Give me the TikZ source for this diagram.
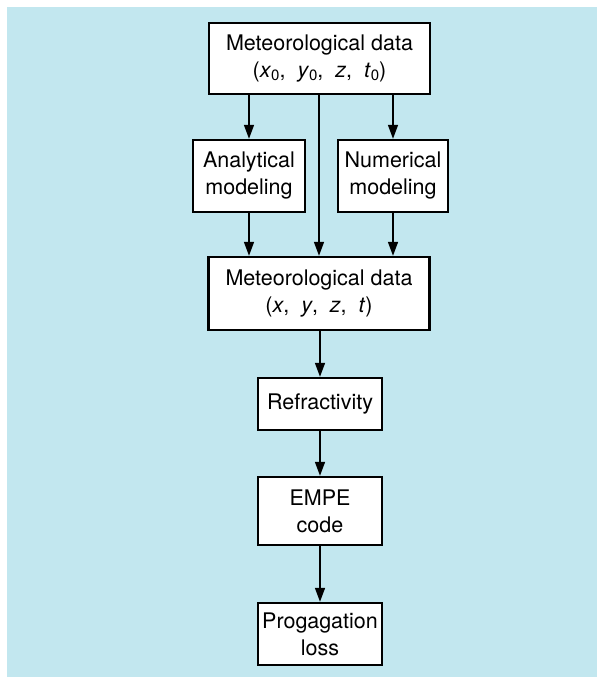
\documentclass[tikz,border=0pt]{standalone}
\usepackage{fontspec}
\setmainfont{TeX Gyre Heros}
\usetikzlibrary{arrows.meta}
\definecolor{bgblue}{RGB}{194,231,239}
\newcommand{\lowsub}[1]{\raisebox{-0.3ex}{\fontsize{15}{15}\selectfont #1}}
\begin{document}
\begin{tikzpicture}[x=1pt,y=-1pt,
  box/.style={draw=black, fill=white, line width=2.4pt, align=center, inner sep=0pt,
    font=\fontsize{21.5}{27}\selectfont},
  conn/.style={line width=1.6pt, -{Triangle[length=14pt,width=10pt]}}]
\useasboundingbox (0,0) rectangle (597,677);
\fill[white] (0,0) rectangle (597,677);
\fill[bgblue] (7,7) rectangle (597,677);
\node[box, minimum width=221pt, minimum height=71pt] (top) at (319.5,58.5)
  {Meteorological data\\(\textit{x}\lowsub{0}, \ \textit{y}\lowsub{0}, \ \textit{z}, \ \textit{t}\lowsub{0})};
\node[box, minimum width=112pt, minimum height=72pt] (anal) at (249,176) {Analytical\\modeling};
\node[box, minimum width=110pt, minimum height=72pt] (num) at (393,176) {Numerical\\modeling};
\node[box, minimum width=221pt, minimum height=73pt] (mid) at (319,293.5)
  {Meteorological data\\(\textit{x}, \ \textit{y}, \ \textit{z}, \ \textit{t})};
\node[box, minimum width=124pt, minimum height=52pt] (refr) at (320,404) {Refractivity};
\node[box, minimum width=124pt, minimum height=68pt] (empe) at (320,511) {EMPE\\code};
\node[box, minimum width=124pt, minimum height=62pt] (prog) at (320,634) {Progagation\\loss};
\draw[conn] (anal.north |- top.south) -- (anal.north);
\draw[conn] (num.north |- top.south) -- (num.north);
\draw[conn] (top.south -| mid.north) -- (mid.north);
\draw[conn] (anal.south) -- (anal.south |- mid.north);
\draw[conn] (num.south) -- (num.south |- mid.north);
\draw[conn] (mid.south -| refr.north) -- (refr.north);
\draw[conn] (refr.south) -- (empe.north);
\draw[conn] (empe.south) -- (prog.north);
\end{tikzpicture}
\end{document}
